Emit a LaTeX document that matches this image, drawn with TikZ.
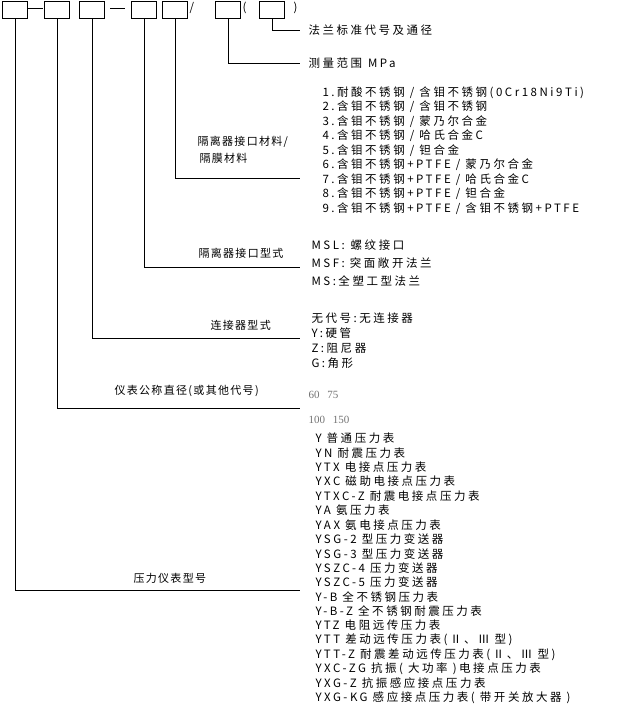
\documentclass[tikz,border=0pt]{standalone}
\usepackage{fontspec}
\setmainfont{Noto Sans CJK SC}
\newfontfamily\listfont[LetterSpace=22]{Noto Sans CJK SC}
\newfontfamily\labfont[LetterSpace=12]{Noto Sans CJK SC}
\newfontfamily\serifnum{Liberation Serif}
\begin{document}
\begin{tikzpicture}[x=1pt,y=-1pt,line width=1pt,
  box/.style={draw,minimum width=25pt,minimum height=17pt,inner sep=0pt,anchor=north west},
  txt/.style={anchor=west,inner sep=0pt,font=\listfont\fontsize{11.5}{12}\selectfont},
  lab/.style={anchor=south west,inner sep=0pt,font=\labfont\fontsize{11}{12}\selectfont}]
\useasboundingbox (0,0) rectangle (635,715);
\node[box] (b1) at (2,0.5) {};
\node[box] (b2) at (44,0.5) {};
\node[box] (b3) at (79,0.5) {};
\node[box] (b4) at (131,0.5) {};
\node[box] (b5) at (162,0.5) {};
\node[box] (b6) at (215,0.5) {};
\node[box] (b7) at (259,0.5) {};
\coordinate (d1a) at (28,8); \coordinate (d1b) at (43,8);
\coordinate (d2a) at (110,8); \coordinate (d2b) at (125,8);
\draw (d1a)--(d1b) (d2a)--(d2b);
\node[txt] (sl) at (189,8) {/};
\node[txt] (lp) at (242,8) {(};
\node[txt] (rp) at (293,8) {)};
\coordinate (e7) at (300,30); \coordinate (e6) at (300,63);
\coordinate (e5) at (300,178); \coordinate (e4) at (300,267);
\coordinate (e3) at (300,338); \coordinate (e2) at (300,408);
\coordinate (e1) at (300,590);
\draw (b7.south) |- (e7);
\draw (b6.south) |- (e6);
\draw (b5.south) |- (e5);
\draw (b4.south) |- (e4);
\draw (b3.south) |- (e3);
\draw (b2.south) |- (e2);
\draw (b1.south) |- (e1);
\node[txt] (t7) at (308,30) {法兰标准代号及通径};
\node[txt] (t6) at (308,63) {测量范围\hspace{6pt}MPa};
\node[lab] (l5a) at (197,148) {隔离器接口材料/};
\node[lab] (l5b) at (199,164) {隔膜材料};
\foreach \t [count=\i] in {1.耐酸不锈钢 / 含钼不锈钢(0Cr18Ni9Ti),2.含钼不锈钢 / 含钼不锈钢,3.含钼不锈钢 / 蒙乃尔合金,4.含钼不锈钢 / 哈氏合金C,5.含钼不锈钢 / 钽合金,6.含钼不锈钢+PTFE / 蒙乃尔合金,7.含钼不锈钢+PTFE / 哈氏合金C,8.含钼不锈钢+PTFE / 钽合金,9.含钼不锈钢+PTFE / 含钼不锈钢+PTFE}
  \node[txt] (m\i) at (322,{78+14.5*\i}) {\t};
\node[lab] (l4) at (198,259) {隔离器接口型式};
\node[txt] (s1) at (311,245) {MSL:\hspace{6pt}螺纹接口};
\node[txt] (s2) at (311,263) {MSF: 突面敞开法兰};
\node[txt] (s3) at (311,281) {MS:全塑工型法兰};
\node[lab] (l3) at (210,331) {连接器型式};
\node[txt] (c1) at (311,318) {无代号:无连接器};
\node[txt] (c2) at (311,333) {Y:硬管};
\node[txt] (c3) at (311,348) {Z:阻尼器};
\node[txt] (c4) at (311,363) {G:角形};
\node[lab] (l2) at (114,397) {仪表公称直径(或其他代号)};
\node[txt,text=gray!90!black,font=\serifnum\fontsize{11}{12}\selectfont] (n1) at (308,395) {60\hspace{8pt}75};
\node[txt,text=gray!90!black,font=\serifnum\fontsize{11}{12}\selectfont] (n2) at (308,420) {100\hspace{8pt}150};
\node[lab] (l1) at (133,584) {压力仪表型号};
\foreach \t [count=\i] in {Y 普通压力表,YN 耐震压力表,YTX 电接点压力表,YXC 磁助电接点压力表,YTXC-Z 耐震电接点压力表,YA 氨压力表,YAX 氨电接点压力表,YSG-2 型压力变送器,YSG-3 型压力变送器,YSZC-4 压力变送器,YSZC-5 压力变送器,Y-B 全不锈钢压力表,Y-B-Z 全不锈钢耐震压力表,YTZ 电阻远传压力表,YTT 差动远传压力表(Ⅱ、Ⅲ 型),YTT-Z 耐震差动远传压力表(Ⅱ、Ⅲ 型),YXC-ZG 抗振( 大功率 )电接点压力表,YXG-Z 抗振感应接点压力表,YXG-KG 感应接点压力表( 带开关放大器 )}
  \node[txt] (p\i) at (315,{424+14.4*\i}) {\t};
\end{tikzpicture}
\end{document}
